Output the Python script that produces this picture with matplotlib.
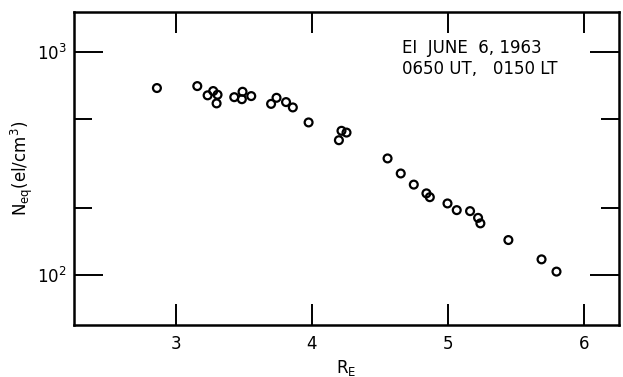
import matplotlib
matplotlib.use("Agg")
import matplotlib.pyplot as plt
from matplotlib.ticker import FixedLocator, NullFormatter, FixedFormatter

r_e = [2.86, 3.157, 3.233, 3.274, 3.306, 3.299, 3.429, 3.49, 3.485, 3.554,
       3.70, 3.74, 3.81, 3.86, 3.976, 4.218, 4.255, 4.199,
       4.557, 4.654, 4.75, 4.843, 4.868, 4.998, 5.066, 5.164, 5.223, 5.24,
       5.446, 5.69, 5.80]
n_eq = [690, 704, 640, 669, 644, 589, 628, 664, 615, 635,
        586, 624, 597, 565, 484, 444, 436, 403,
        334, 286, 255, 233, 224, 210, 196, 194, 181, 171,
        144, 118, 104]

x_ticks = [3, 4, 5, 6]
y_major = [100, 1000]
y_major_labels = [r"$10^2$", r"$10^3$"]
y_minor = [200, 500]

fig = plt.figure(figsize=(6.23, 3.77), dpi=100)
ax = fig.add_axes([0.1188, 0.138, 0.8748, 0.830])
ax.set_yscale("log")
ax.scatter(r_e, n_eq, s=32, facecolors="none", edgecolors="black", linewidths=1.6, zorder=3)

ax.set_xlim(2.25, 6.26)
ax.set_ylim(60, 1510)

ax.xaxis.set_major_locator(FixedLocator(x_ticks))
ax.set_xticklabels([str(t) for t in x_ticks])
ax.yaxis.set_major_locator(FixedLocator(y_major))
ax.yaxis.set_major_formatter(FixedFormatter(y_major_labels))
ax.yaxis.set_minor_locator(FixedLocator(y_minor))
ax.yaxis.set_minor_formatter(NullFormatter())
ax.xaxis.set_minor_locator(FixedLocator([]))

ax.tick_params(which="major", direction="in", length=15, width=1.4,
               top=True, right=True, labelsize=12, pad=7)
ax.tick_params(axis="y", which="major", length=21, pad=5)
ax.tick_params(axis="y", which="minor", direction="in", length=13, width=1.4,
               right=True, left=True)

for s in ax.spines.values():
    s.set_linewidth(1.8)

ax.set_xlabel(r"$\mathregular{R_E}$", fontsize=12, labelpad=4)
ax.set_ylabel(r"$\mathregular{N_{eq}(el/cm^3)}$", fontsize=12)
ax.yaxis.set_label_coords(-0.072, 0.5)

ax.text(0.601, 0.915, "EI  JUNE  6, 1963\n0650 UT,   0150 LT", transform=ax.transAxes,
        fontsize=12, va="top", ha="left", linespacing=1.25)

fig.savefig("out.png", dpi=100)
